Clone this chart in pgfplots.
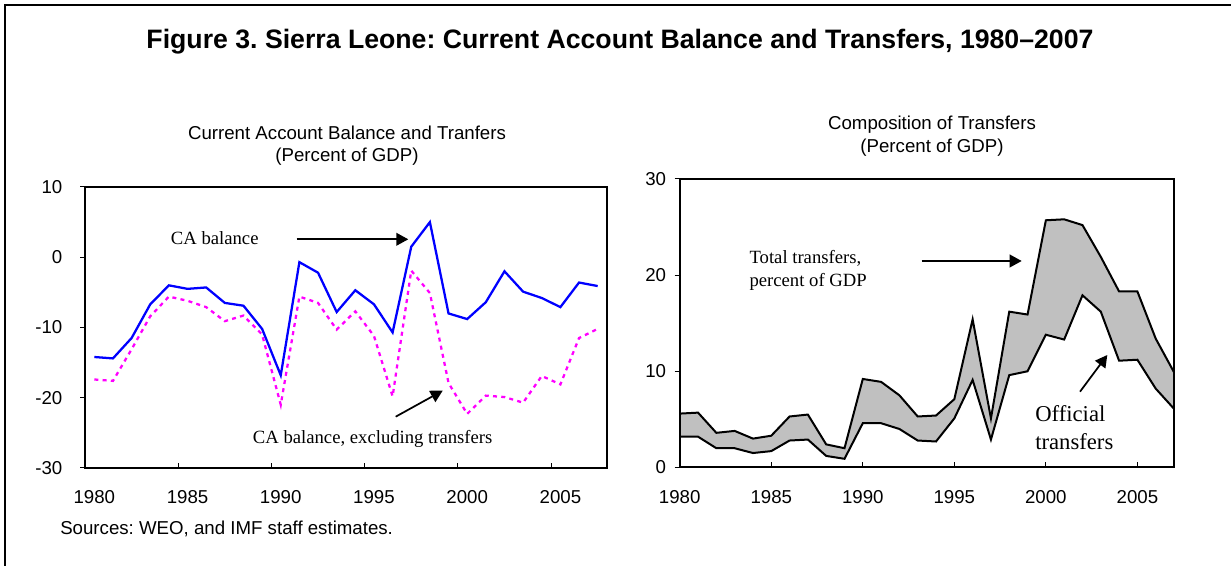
\documentclass[border=0pt]{standalone}
\usepackage{fontspec}
\setmainfont{Liberation Sans}
\newfontfamily\tnr{Liberation Serif}
\usepackage{pgfplots}
\pgfplotsset{compat=1.18}
\usetikzlibrary{arrows.meta}
\frenchspacing

\definecolor{fillgray}{RGB}{192,192,192}
\definecolor{cablue}{RGB}{0,0,255}
\definecolor{camag}{RGB}{255,0,255}

% current account balance, with and without transfers (percent of GDP)
\pgfplotstableread{
year ca caex
1980 -14.2 -17.4
1981 -14.4 -17.6
1982 -11.5 -13.1
1983 -6.7 -8.4
1984 -4.0 -5.6
1985 -4.5 -6.2
1986 -4.3 -7.1
1987 -6.5 -9.1
1988 -6.9 -8.3
1989 -10.2 -11.0
1990 -16.8 -21.0
1991 -0.7 -5.6
1992 -2.2 -6.5
1993 -7.8 -10.3
1994 -4.7 -7.7
1995 -6.7 -11.2
1996 -10.7 -19.8
1997 1.5 -1.9
1998 5.0 -5.1
1999 -8.0 -17.9
2000 -8.8 -22.3
2001 -6.4 -19.7
2002 -2.0 -19.9
2003 -4.9 -20.7
2004 -5.8 -16.9
2005 -7.1 -18.1
2006 -3.6 -11.5
2007 -4.1 -10.2
}\cadata

% transfers (percent of GDP)
\pgfplotstableread{
year total official
1980 5.6 3.2
1981 5.7 3.2
1982 3.6 2.0
1983 3.8 2.0
1984 3.0 1.5
1985 3.3 1.7
1986 5.3 2.8
1987 5.5 2.9
1988 2.4 1.2
1989 2.0 0.9
1990 9.2 4.6
1991 8.9 4.6
1992 7.5 4.0
1993 5.3 2.8
1994 5.4 2.7
1995 7.1 5.1
1996 15.4 9.1
1997 5.1 2.9
1998 16.2 9.6
1999 15.9 10.0
2000 25.7 13.8
2001 25.8 13.3
2002 25.2 17.9
2003 21.9 16.2
2004 18.3 11.1
2005 18.3 11.2
2006 13.4 8.2
2007 9.9 6.1
}\trdata

\pgfplotsset{
  iamf/.style={
    scale only axis,
    anchor=south west,
    axis line style={line width=1.5pt},
    tick style={black, line width=0.75pt},
    major tick length=3.75pt,
    minor tick length=3.75pt,
    tick label style={font=\fontsize{14}{16}\selectfont},
    /pgf/number format/assume math mode=true,
    xticklabel style={/pgf/number format/1000 sep={}, yshift=-13.5pt},
    xtick pos=bottom, ytick pos=left,
    major y tick style={xshift=-3.75pt},
  },
}

\begin{document}
\begin{tikzpicture}
\useasboundingbox (0,0) rectangle (923.25pt,424.5pt);

% left panel: 85..607 px wide, 187..468 px high
\begin{axis}[iamf,
  at={(63.75pt,73.5pt)}, width=391.5pt, height=210.75pt,
  xmin=1979.5, xmax=2007.5, ymin=-30, ymax=10,
  xtick={1980,1985,...,2005},
  minor xtick={1984.5,1989.5,1994.5,1999.5,2004.5},
  major x tick style={draw=none},
  ytick={-30,-20,...,10},
  yticklabel style={xshift=-13.5pt},
]
\addplot[cablue, line width=1.7pt] table[x=year, y=ca] {\cadata};
\addplot[camag, line width=1.7pt, dash pattern=on 3pt off 3.2pt] table[x=year, y=caex] {\cadata};
\end{axis}

% right panel: 679.7..1174 px wide, 179..467.5 px high
\begin{axis}[iamf,
  at={(509.8pt,73.9pt)}, width=370.7pt, height=216.4pt,
  xmin=1980, xmax=2007, ymin=0, ymax=30,
  xtick={1980,1985,...,2005},
  ytick={0,10,20,30},
  yticklabel style={xshift=-6.75pt},
  axis on top,
]
\addplot[fill=fillgray, draw=none] table[x=year, y=total] {\trdata} \closedcycle;
\addplot[fill=white, draw=none] table[x=year, y=official] {\trdata} \closedcycle;
\addplot[black, line width=1.5pt] table[x=year, y=total] {\trdata};
\addplot[black, line width=1.5pt] table[x=year, y=official] {\trdata};
\end{axis}

% texts and arrows, in reference pixels from the top-left corner
\begin{scope}[x=0.75pt, y=-0.75pt, shift={(0,424.5pt)}, every node/.style={inner sep=0pt}]
\draw[line width=1.5pt] (5,566) -- (5,5) -- (1231,5);

\node[anchor=base, font=\bfseries\fontsize{20}{24}\selectfont] at (620,48.3)
  {Figure 3. Sierra Leone: Current Account Balance and Transfers, 1980–2007};

\node[anchor=base, font=\fontsize{14}{16}\selectfont] at (347,140) {Current Account Balance and Tranfers};
\node[anchor=base, font=\fontsize{14}{16}\selectfont] at (347,162) {(Percent of GDP)};
\node[anchor=base, font=\fontsize{14}{16}\selectfont] at (932,130) {Composition of Transfers};
\node[anchor=base, font=\fontsize{14}{16}\selectfont] at (932,152.5) {(Percent of GDP)};

\node[anchor=base west, font=\tnr\fontsize{14}{16}\selectfont] at (170.7,245) {CA balance};
\draw[line width=1.3pt, -{Triangle[length=9pt,width=9.5pt]}] (296.7,239.3) -- (408.3,239.3);
\node[anchor=base west, font=\tnr\fontsize{14}{16}\selectfont] at (252.7,443.3) {CA balance, excluding transfers};
\draw[line width=1.3pt, -{Triangle[length=9pt,width=9.5pt]}] (395.7,416.7) -- (442.7,390.7);

\node[anchor=base west, font=\fontsize{14}{16}\selectfont] at (60,535) {Sources: WEO, and IMF staff estimates.};

\node[anchor=base west, font=\tnr\fontsize{14}{16}\selectfont] at (749.3,263.3) {Total transfers,};
\node[anchor=base west, font=\tnr\fontsize{14}{16}\selectfont] at (749.3,286.6) {percent of GDP};
\draw[line width=1.3pt, -{Triangle[length=9pt,width=9.5pt]}] (921.7,261) -- (1021.7,261);
\node[anchor=base west, font=\tnr\fontsize{17}{20}\selectfont] at (1035,421.7) {Official};
\node[anchor=base west, font=\tnr\fontsize{17}{20}\selectfont] at (1035,450) {transfers};
\draw[line width=1.3pt, -{Triangle[length=9pt,width=9.5pt]}] (1080,391.7) -- (1107.3,355);
\end{scope}
\end{tikzpicture}
\end{document}
